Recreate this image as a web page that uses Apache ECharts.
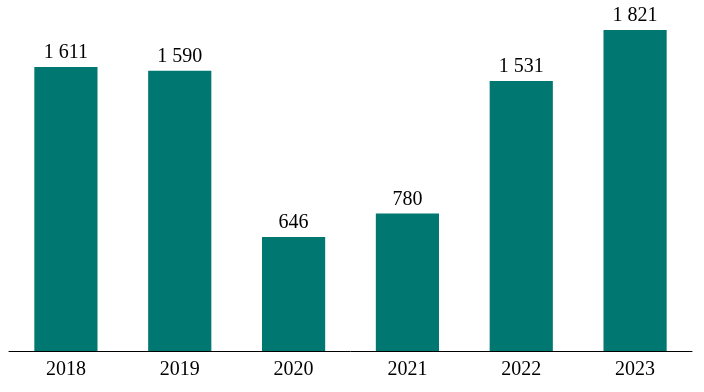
<!DOCTYPE html>
<html>
<head>
<meta charset="utf-8">
<script src="https://cdn.jsdelivr.net/npm/echarts@6/dist/echarts.min.js"></script>
<style>html,body{margin:0;padding:0;background:#fff;}#c{width:704px;height:392px;}</style>
</head>
<body>
<div id="c"></div>
<script>
const categories = ['2018', '2019', '2020', '2021', '2022', '2023'];
const values = [1611, 1590, 646, 780, 1531, 1821];

function fmt(v) {
  return String(v).replace(/\B(?=(\d{3})+(?!\d))/g, ' ');
}

const chart = echarts.init(document.getElementById('c'), null, {renderer: 'canvas'});
chart.setOption({
  animation: false,
  grid: {left: 9, right: 12, top: 0, bottom: 41},
  xAxis: {
    type: 'category',
    data: categories,
    axisLine: {lineStyle: {color: '#000', width: 1}},
    axisTick: {show: false},
    axisLabel: {color: '#000', fontFamily: 'Liberation Serif', fontSize: 20, margin: 9}
  },
  yAxis: {
    type: 'value',
    min: 0,
    max: 1991,
    show: false,
    splitLine: {show: false}
  },
  series: [{
    type: 'bar',
    data: values,
    barWidth: '55.5%',
    itemStyle: {color: '#007770'},
    label: {
      show: true,
      position: 'top',
      distance: 4,
      color: '#000',
      fontFamily: 'Liberation Serif',
      fontSize: 20,
      formatter: p => fmt(p.value)
    }
  }]
});
</script>
</body>
</html>
